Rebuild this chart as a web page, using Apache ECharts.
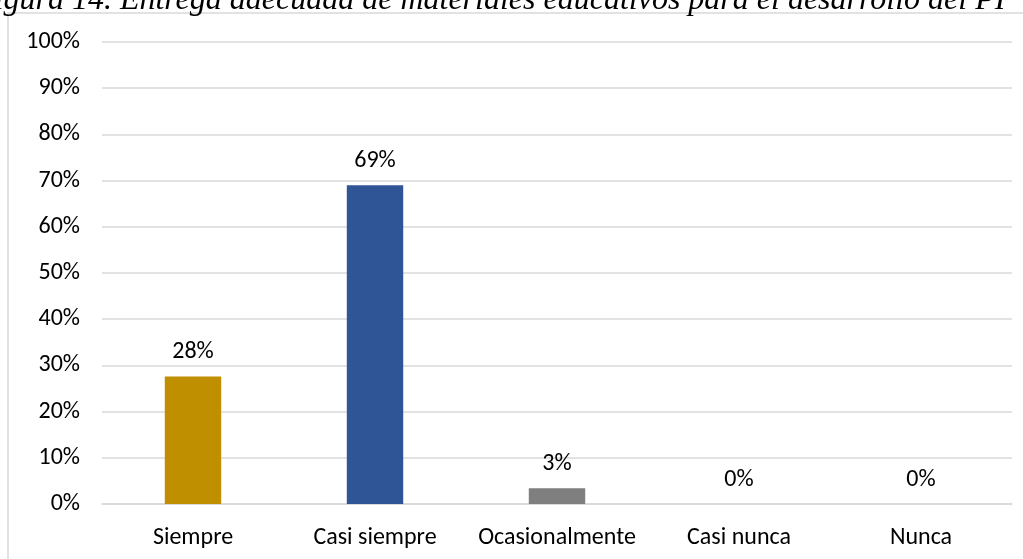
<!DOCTYPE html>
<html>
<head>
<meta charset="utf-8">
<script src="https://cdn.jsdelivr.net/npm/echarts@6/dist/echarts.min.js"></script>
<style>
  html, body { margin: 0; padding: 0; background: #fff; }
  #chart { width: 1023px; height: 559px; }
</style>
</head>
<body>
<div id="chart"></div>
<script>
const categories = ['Siempre', 'Casi siempre', 'Ocasionalmente', 'Casi nunca', 'Nunca']
const values = [27.6, 69.0, 3.4, 0, 0]
const barColors = ['#BF8F00', '#2F5597', '#7F7F7F', '#A5A5A5', '#FFC000']
const titleText = 'Figura 14. Entrega adecuada de materiales educativos para el desarrollo del PI'

const font = 'Carlito, Lato, "Open Sans", sans-serif'
const chart = echarts.init(document.getElementById('chart'))

chart.setOption({
  animation: false,
  graphic: [
    {
      type: 'rect',
      shape: { x: 8, y: 13, width: 1100, height: 600 },
      style: { fill: 'none', stroke: '#D9D9D9', lineWidth: 1.5 },
      silent: true
    },
    {
      type: 'text',
      x: -25,
      y: 17,
      style: {
        text: titleText,
        font: 'italic 32px "Liberation Serif", "Times New Roman", serif',
        fill: '#000',
        verticalAlign: 'bottom'
      }
    }
  ],
  grid: { left: 102, right: 11, top: 42, bottom: 55 },
  xAxis: {
    type: 'category',
    data: categories,
    axisTick: { show: false },
    axisLine: { lineStyle: { color: '#D9D9D9', width: 1.5 } },
    axisLabel: { color: '#000', fontSize: 24, fontFamily: font, margin: 22, interval: 0 }
  },
  yAxis: {
    type: 'value',
    min: 0,
    max: 100,
    interval: 10,
    axisLine: { show: false },
    axisTick: { show: false },
    splitLine: { lineStyle: { color: '#D9D9D9', width: 1.5 } },
    axisLabel: { color: '#000', fontSize: 24, fontFamily: font, margin: 22, formatter: '{value}%' }
  },
  series: [{
    type: 'bar',
    barWidth: '31%',
    data: values.map((v, i) => ({ value: v, itemStyle: { color: barColors[i] } })),
    label: {
      show: true,
      position: 'top',
      distance: 12,
      color: '#000',
      fontSize: 24,
      fontFamily: font,
      formatter: p => Math.round(p.value) + '%'
    }
  }]
})
</script>
</body>
</html>
